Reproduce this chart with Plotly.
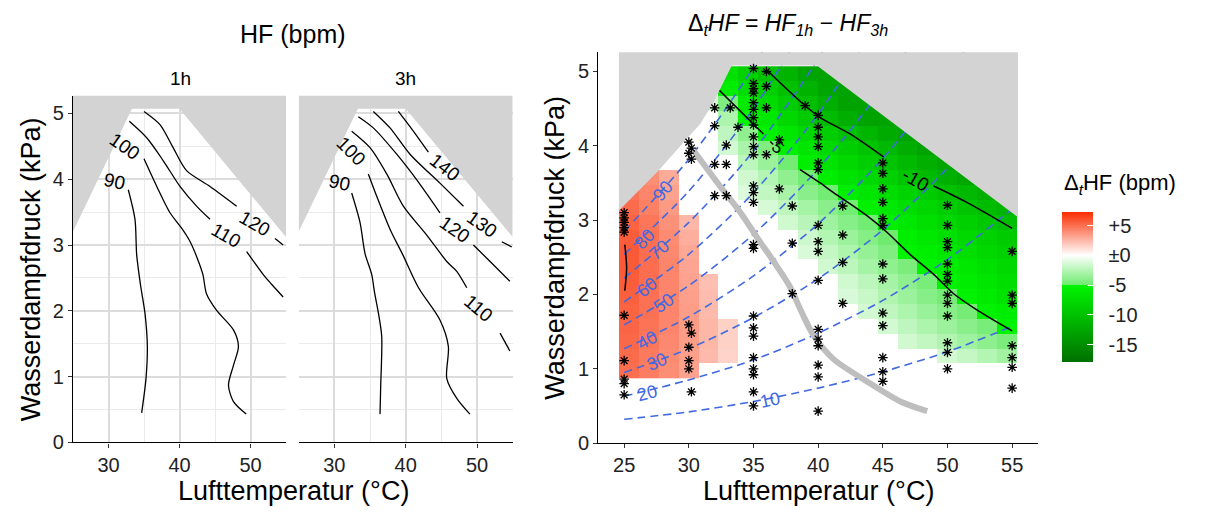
import plotly.graph_objects as go

W, H = 1213, 519
FONT = "Liberation Sans, Arial, sans-serif"
N = None

# ---------------- left panels: HF (bpm) contours, 1h and 3h ----------------
mask_x = [25, 33.3, 40.0, 55, 55, 25, 25]
mask_y = [3.2, 5.07, 5.07, 3.12, 5.35, 5.35, 3.2]

h1_90_x = [32.79, 33.73, 33.97, 34.5, 35.14, 35.47, 35.28, 34.67]
h1_90_y = [3.84, 3.39, 2.85, 2.40, 1.96, 1.46, 0.97, 0.45]
h1_100_x = [35.0, 36.8, 38.66, 40.2, 41.5, 42.5, 43.3, 43.8, 45.2, 47.6, 48.3, 47.6, 46.9, 47.6, 49.4]
h1_100_y = [4.31, 3.89, 3.49, 3.27, 3.05, 2.80, 2.55, 2.26, 2.01, 1.71, 1.46, 1.17, 0.87, 0.62, 0.43]
h1_110_x = [32.93, 35.38, 37.72, 40.07, 42.4, 44.3, N, 49.46, 51.8, 53.0, 54.6]
h1_110_y = [4.88, 4.63, 4.28, 3.89, 3.59, 3.39, N, 2.90, 2.55, 2.40, 2.21]
h1_120_x = [35.0, 37.25, 39.1, 41.0, 44.3, 48.05, N, 53.45, 54.6]
h1_120_y = [5.03, 4.83, 4.48, 4.13, 3.89, 3.59, N, 3.10, 3.0]

h3_90_x = [32.43, 33.6, 34.3, 35.24, 35.6, 36.2, 36.64, 36.5, 36.4]
h3_90_y = [3.79, 3.34, 2.87, 2.55, 2.30, 1.95, 1.61, 0.87, 0.43]
h3_100_x = [34.76, 35.94, 37.8, 39.6, 41.8, 44.8, 45.98, 45.76, 47.16, 49.0]
h3_100_y = [4.08, 3.74, 3.24, 2.85, 2.35, 1.86, 1.46, 0.97, 0.67, 0.43]
h3_110_x = [32.43, 35.0, 37.34, 39.67, 42.95, 45.76, 47.16, 48.56, N, 53.23, 54.6]
h3_110_y = [4.73, 4.48, 4.08, 3.59, 3.15, 2.75, 2.60, 2.35, N, 1.66, 1.39]
h3_120_x = [33.36, 35.46, 38.74, 41.55, 44.8, N, 49.49, 51.83, 54.6]
h3_120_y = [4.95, 4.78, 4.38, 3.99, 3.49, N, 3.0, 2.75, 2.45]
h3_130_x = [35.46, 37.8, 40.6, 44.8, 48.1, N, 53.47, 54.87]
h3_130_y = [5.03, 4.78, 4.38, 3.94, 3.59, N, 3.05, 2.97]
h3_140_x = [38.97, 41.07, 43.18]
h3_140_y = [5.03, 4.73, 4.41]

# contour labels: (text, x, y, angle)
lab_1h = [("90", 30.9, 3.97, 12), ("100", 32.3, 4.50, 35), ("110", 46.6, 3.15, 30), ("120", 50.6, 3.33, 30)]
lab_3h = [("90", 30.7, 3.95, 12), ("100", 32.4, 4.42, 45), ("110", 50.2, 2.03, 40),
          ("120", 46.9, 3.24, 35), ("130", 50.75, 3.31, 35), ("140", 45.5, 4.18, 38)]

# ---------------- right panel: Delta_t HF ----------------
hm_x = [25.37, 26.91, 28.45, 29.99, 31.53, 33.07, 34.61, 36.15, 37.69, 39.23,
        40.77, 42.31, 43.85, 45.39, 46.93, 48.47, 50.01, 51.55, 53.09, 54.63]
hm_y = [0.97, 1.17, 1.37, 1.57, 1.77, 1.97, 2.17, 2.37, 2.57, 2.77, 2.97,
        3.17, 3.37, 3.57, 3.77, 3.97, 4.17, 4.37, 4.57, 4.77, 4.97]
hm_z = [
    [5.0, 4.5, 3.9, 3.2] + [N] * 16,
    [5.1, 4.6, 4.0, 3.3, 2.4, 1.5] + [N] * 10 + [-1.5, -2.0, -2.6, -3.2],
    [5.2, 4.7, 4.1, 3.4, 2.5, 1.6] + [N] * 8 + [-1.6, -2.1, -2.7, -3.3, -3.9, -4.5],
    [5.3, 4.8, 4.2, 3.4, 2.5, 1.6] + [N] * 7 + [-1.5, -2.2, -2.8, -3.4, -4.0, -4.6, -5.1],
    [5.4, 4.9, 4.2, 3.4, 2.4] + [N] * 7 + [-1.5, -2.2, -2.8, -3.5, -4.1, -4.7, -5.3, -5.9],
    [5.5, 4.9, 4.2, 3.3, 2.3] + [N] * 6 + [-1.3, -1.9, -2.7, -3.4, -4.1, -4.7, -5.3, -6.0, -6.7],
    [5.6, 5.0, 4.2, 3.2, 2.2] + [N] * 6 + [-1.6, -2.3, -3.1, -3.9, -4.6, -5.2, -5.9, -6.5, -7.2],
    [5.7, 5.0, 4.2, 3.1] + [N] * 6 + [-1.6, -2.3, -3.1, -3.8, -4.5, -5.1, -5.8, -6.4, -7.0, -7.7],
    [5.7, 5.0, 4.1, 3.0] + [N] * 5 + [-1.3, -2.0, -2.8, -3.6, -4.4, -5.05, -5.7, -6.4, -7.1, -7.8, -8.5],
    [5.6, 4.9, 4.0, 2.8] + [N] * 5 + [-1.7, -2.6, -3.4, -4.2, -4.9, -5.6, -6.3, -7.0, -7.7, -8.4, -9.1],
    [5.4, 4.7, 3.8, 2.5] + [N] * 4 + [-1.6, -2.4, -3.3, -4.1, -4.8, -5.5, -6.3, -7.1, -7.9, -8.6, -9.4, -10.2],
    [5.1, 4.4, 3.5] + [N] * 4 + [-1.4, -2.2, -3.1, -4.0, -4.8, -5.5, -6.3, -7.2, -8.0, -8.8, -9.7, -10.5, -11.3],
    [4.8, 4.2, 3.2] + [N] * 3 + [-1.2, -2.1, -3.0, -4.0, -4.8, -5.6, -6.5, -7.4, -8.2, -9.1, -10.0, -10.9, -11.8, N],
    [4.5, 3.9, 2.9] + [N] * 3 + [-1.6, -2.6, -3.8, -4.8, -5.8, -6.7, -7.7, -8.7, -9.7, -10.7, -11.7, -12.6, N, N],
    [N] * 6 + [-2.3, -3.5, -4.8, -5.7, -6.8, -7.8, -8.8, -9.8, -10.8, -11.8, -12.8, N, N, N],
    [N] * 5 + [-1.5, -2.9, -4.4, -5.5, -6.6, -7.7, -8.8, -9.8, -10.9, -12.0, -13.0, N, N, N, N],
    [N] * 5 + [-2.2, -3.8, -5.3, -6.5, -7.6, -8.8, -9.9, -11.1, -12.2, -13.0, N, N, N, N, N],
    [N] * 5 + [-2.8, -5.1, -6.4, -7.8, -9.1, -10.5, -11.9, -13.0, -13.0, N, N, N, N, N, N],
    [N] * 4 + [-1.5, -4.4, -6.1, -7.5, -9.0, -10.4, -11.8, -13.0, -13.0, N, N, N, N, N, N, N],
    [N] * 5 + [-5.8, -7.2, -8.6, -10.0, -11.4, -12.8, -13.0] + [N] * 8,
    [N] * 4 + [-5.45, -6.9, -8.4, -9.9, -11.3, -12.8, -13.0] + [N] * 9,
]

rmask_x = [24.6, 27.63, 29.31, 30.86, 31.9, 33.32, 39.9, 55.45, 55.45, 24.6, 24.6]
rmask_y = [3.13, 3.66, 3.99, 4.29, 4.58, 5.08, 5.08, 3.04, 5.35, 5.35, 3.13]

# black contours of Delta_t HF
d_m10_x = [36.03, 38.6, 40.16, 42.47, 45.06, N, 48.93, 51.5, 55.0]
d_m10_y = [5.02, 4.60, 4.38, 4.16, 3.85, N, 3.46, 3.24, 2.89]
d_m5_x = [32.16, 33.96, 35.77, N, 38.6, 40.16, 41.19, 43.77, 45.3, 47.1, 48.93, 50.48, 52.3, 55.0]
d_m5_y = [4.78, 4.47, 4.16, N, 3.68, 3.50, 3.37, 3.06, 2.84, 2.54, 2.27, 2.01, 1.79, 1.51]
d_p5_x = [25.05, 25.19, 25.05]
d_p5_y = [2.67, 2.36, 2.05]

# relative-humidity isolines (kPa at 25..55 degC)
rh_t = [25, 30, 35, 40, 45, 50, 55]
rh_10 = [0.32, 0.42, 0.56, 0.74, 0.96, 1.23, 1.57]
rh_20 = [0.63, 0.85, 1.12, 1.48, 1.92, 2.47, 3.15]
rh_30 = [0.95, 1.27, 1.69, 2.21, 2.87, 3.70, 4.72]
rh_40 = [1.27, 1.70, 2.25, 2.95, 3.83, 4.94, 6.30]
rh_50 = [1.59, 2.12, 2.81, 3.69, 4.79, 6.17]
rh_60 = [1.90, 2.54, 3.37, 4.43, 5.75]
rh_70 = [2.22, 2.97, 3.93, 5.17, 6.71]
rh_80 = [2.54, 3.39, 4.50, 5.90]
rh_90 = [2.85, 3.82, 5.06, 6.64]
rh_lines = [rh_10, rh_20, rh_30, rh_40, rh_50, rh_60, rh_70, rh_80, rh_90]
rh_labels = [("10", 36.3, 0.58, -12), ("20", 26.8, 0.68, -15), ("30", 27.5, 1.09, -24),
             ("40", 26.8, 1.39, -28), ("50", 28.1, 1.88, -35), ("60", 26.8, 2.10, -38),
             ("70", 27.7, 2.60, -42), ("80", 26.6, 2.74, -46), ("90", 28.0, 3.39, -50)]

# grey threshold curve
gc_x = [30.35, 32.4, 33.96, 35.5, 36.54, 37.83, 38.7, 39.64, 41.19, 43.77, 46.35, 48.43]
gc_y = [3.94, 3.46, 3.11, 2.71, 2.45, 2.10, 1.77, 1.45, 1.13, 0.83, 0.56, 0.43]

# observations
obs = {
    25.0: [3.10, 3.03, 2.97, 2.90, 2.84, 1.72, 1.11, 0.86, 0.80, 0.65],
    30.0: [4.05, 3.90, 1.59, 1.29, 1.11, 1.00],
    30.2: [3.97, 3.82, 1.48, 0.69],
    32.0: [4.51, 4.27, 3.75, 3.33],
    32.9: [4.01, 3.75, 3.33],
    33.2: [4.51],
    33.8: [4.25],
    35.0: [5.04, 4.84, 4.77, 4.71, 4.58, 4.49, 4.38, 4.28, 4.12, 3.99, 3.88, 3.46, 3.37, 3.24,
           2.67, 2.62, 1.71, 1.55, 1.44, 1.15, 1.00, 0.92, 0.69, 0.50],
    36.0: [5.00, 4.80, 4.51, 3.88],
    37.0: [4.08, 3.42],
    38.0: [3.19, 2.69, 2.01],
    39.0: [4.54],
    40.0: [4.41, 4.25, 4.12, 3.99, 3.77, 3.68, 2.93, 2.71, 2.58, 2.19, 1.53, 1.40, 1.31, 1.05, 0.89, 0.43],
    41.9: [3.19, 2.80, 2.43, 1.88],
    45.0: [3.77, 3.63, 3.42, 3.24, 3.02, 2.93, 2.41, 2.21, 1.75, 1.58, 1.15, 0.96, 0.83],
    50.0: [3.20, 2.93, 2.71, 2.63, 2.41, 2.27, 2.18, 1.99, 1.88, 1.71, 1.35, 1.22, 1.00],
    55.0: [2.58, 1.99, 1.88, 1.31, 1.15, 1.02, 0.74],
}
obs_x = [t for t, ys in obs.items() for _ in ys]
obs_y = [v for ys in obs.values() for v in ys]

cb_vals = [5, 0, -5, -10, -15]
cb_text = ["\u00a0\u00a0+5", "\u00a0\u00a0±0", "\u00a0\u00a0-5", "\u00a0\u00a0-10", "\u00a0\u00a0-15"]
ZMIN, ZMAX = -17.9, 7.25

# ---------------- figure ----------------
fig = go.Figure()


def line(xs, ys, xa, ya, color="black", width=1.3, dash=None, shape="spline"):
    fig.add_trace(go.Scatter(x=xs, y=ys, xaxis=xa, yaxis=ya, mode="lines",
                             line=dict(color=color, width=width, dash=dash, shape=shape, smoothing=0.8),
                             hoverinfo="skip", showlegend=False))


def poly(xs, ys, xa, ya):
    fig.add_trace(go.Scatter(x=xs, y=ys, xaxis=xa, yaxis=ya, mode="lines", fill="toself",
                             fillcolor="#d3d3d3", line=dict(width=0, color="#d3d3d3"),
                             hoverinfo="skip", showlegend=False))


# left panels
poly(mask_x, mask_y, "x", "y")
for xs, ys in [(h1_90_x, h1_90_y), (h1_100_x, h1_100_y), (h1_110_x, h1_110_y), (h1_120_x, h1_120_y)]:
    line(xs, ys, "x", "y")
poly(mask_x, mask_y, "x2", "y2")
for xs, ys in [(h3_90_x, h3_90_y), (h3_100_x, h3_100_y), (h3_110_x, h3_110_y),
               (h3_120_x, h3_120_y), (h3_130_x, h3_130_y), (h3_140_x, h3_140_y)]:
    line(xs, ys, "x2", "y2")

# right panel
pm5 = (-5 - ZMIN) / (ZMAX - ZMIN)
p0 = (0 - ZMIN) / (ZMAX - ZMIN)
cscale = [[0, "rgb(0,112,0)"], [pm5, "rgb(0,245,0)"], [pm5 + 0.001, "rgb(110,235,110)"],
          [p0, "rgb(255,255,255)"], [1, "rgb(250,45,0)"]]
fig.add_trace(go.Heatmap(
    x=hm_x, y=hm_y, z=hm_z, xaxis="x3", yaxis="y3", zmin=ZMIN, zmax=ZMAX,
    colorscale=cscale, hoverinfo="skip",
    colorbar=dict(x=1061.7 / W, xanchor="left", xpad=0, y=1 - 293.3 / H, yanchor="middle", ypad=0,
                  len=150, lenmode="pixels", thickness=31, thicknessmode="pixels",
                  tickvals=cb_vals, ticktext=cb_text, ticks="inside", ticklen=6, tickcolor="white",
                  tickfont=dict(size=20, color="#222", family=FONT), outlinewidth=0)))
for ys in rh_lines:
    line(rh_t[:len(ys)], ys, "x3", "y3", color="#4169e1", width=1.6, dash="8px,5px")
line(d_m10_x, d_m10_y, "x3", "y3", width=1.5)
line(d_m5_x, d_m5_y, "x3", "y3", width=1.5)
line(d_p5_x, d_p5_y, "x3", "y3", width=1.5)
poly(rmask_x, rmask_y, "x3", "y3")
line(gc_x, gc_y, "x3", "y3", color="#bebebe", width=6)
fig.add_trace(go.Scatter(x=obs_x, y=obs_y, xaxis="x3", yaxis="y3", mode="markers",
                         marker=dict(symbol="asterisk-open", size=8, color="black",
                                     line=dict(color="black", width=1.3)),
                         hoverinfo="skip", showlegend=False))

# ---------------- layout ----------------
tickf = dict(size=20, color="#222", family=FONT)
left_x = dict(range=[25, 55], tickvals=[30, 40, 50], showgrid=True, gridcolor="#dcdcdc", gridwidth=1.6,
              minor=dict(tickvals=[25, 35, 45, 55], showgrid=True, gridcolor="#ebebeb", gridwidth=1),
              zeroline=False, showline=True, linecolor="black", linewidth=1.3,
              ticks="outside", ticklen=4, tickcolor="#333", tickfont=tickf, fixedrange=True)
left_y = dict(range=[0, 5.27], tickvals=[0, 1, 2, 3, 4, 5], showgrid=True, gridcolor="#dcdcdc", gridwidth=1.6,
              minor=dict(tickvals=[0.5, 1.5, 2.5, 3.5, 4.5], showgrid=True, gridcolor="#ebebeb", gridwidth=1),
              zeroline=False, tickfont=tickf, fixedrange=True)

ydom_l = [1 - 452 / H, 1 - 97.7 / H]
fig.update_layout(
    width=W, height=H, margin=dict(l=0, r=0, t=0, b=0),
    paper_bgcolor="white", plot_bgcolor="white", showlegend=False,
    font=dict(family=FONT, color="black"),
    xaxis=dict(domain=[73 / W, 286 / W], anchor="y", **left_x),
    yaxis=dict(domain=ydom_l, anchor="x", showline=True, linecolor="black", linewidth=1.3,
               ticks="outside", ticklen=4, tickcolor="#333", **left_y),
    xaxis2=dict(domain=[298.7 / W, 512.7 / W], anchor="y2", **left_x),
    yaxis2=dict(domain=ydom_l, anchor="x2", showticklabels=False, showline=False, ticks="", **left_y),
    xaxis3=dict(domain=[598.3 / W, 1038 / W], anchor="y3", range=[23.0, 57.0],
                tickvals=[25, 30, 35, 40, 45, 50, 55], showgrid=False, zeroline=False,
                showline=True, linecolor="black", linewidth=1.3, ticks="outside", ticklen=4,
                tickcolor="#333", tickfont=tickf, fixedrange=True),
    yaxis3=dict(domain=[1 - 452.7 / H, 1 - 53.3 / H], anchor="x3", range=[0, 5.26],
                tickvals=[0, 1, 2, 3, 4, 5], showgrid=False, zeroline=False,
                showline=True, linecolor="black", linewidth=1.3, ticks="outside", ticklen=4,
                tickcolor="#333", tickfont=tickf, fixedrange=True),
)

ann = []


def ptext(text, px, py, size, angle=0, xanchor="center", color="black"):
    ann.append(dict(text=text, x=px / W, y=1 - py / H, xref="paper", yref="paper", showarrow=False,
                    xanchor=xanchor, yanchor="middle", textangle=angle,
                    font=dict(size=size, color=color, family=FONT)))


ptext("HF (bpm)", 293, 35, 25)
ptext("1h", 180, 80, 19)
ptext("3h", 405, 80, 19)
ptext("Δ<sub><i>t</i></sub><i>HF</i> = <i>HF</i><sub><i>1h</i></sub> − <i>HF</i><sub><i>3h</i></sub>", 788, 25, 23)
ptext("Lufttemperatur (°C)", 293, 502, 27)
ptext("Lufttemperatur (°C)", 818, 502, 27)
ptext("Wasserdampfdruck (kPa)", 31, 275, 27, angle=-90)
ptext("Wasserdampfdruck (kPa)", 555, 253, 27, angle=-90)
ptext("Δ<sub><i>t</i></sub>HF (bpm)", 1062, 188, 22, xanchor="left")

for xa, ya, labs in [("x", "y", lab_1h), ("x2", "y2", lab_3h)]:
    for t, x, y, a in labs:
        ann.append(dict(text=t, x=x, y=y, xref=xa, yref=ya, showarrow=False, textangle=a,
                        font=dict(size=19, color="black", family=FONT)))
for t, x, y, a in rh_labels:
    ann.append(dict(text=t, x=x, y=y, xref="x3", yref="y3", showarrow=False, textangle=a,
                    font=dict(size=18, color="#4169e1", family=FONT)))
ann.append(dict(text="-10", x=47.5, y=3.55, xref="x3", yref="y3", showarrow=False, textangle=30,
                font=dict(size=19, color="black", family=FONT)))
ann.append(dict(text="-5", x=36.7, y=4.0, xref="x3", yref="y3", showarrow=False, textangle=45,
                font=dict(size=17, color="black", family=FONT)))

fig.update_layout(annotations=ann)
fig.write_html("out.html")
